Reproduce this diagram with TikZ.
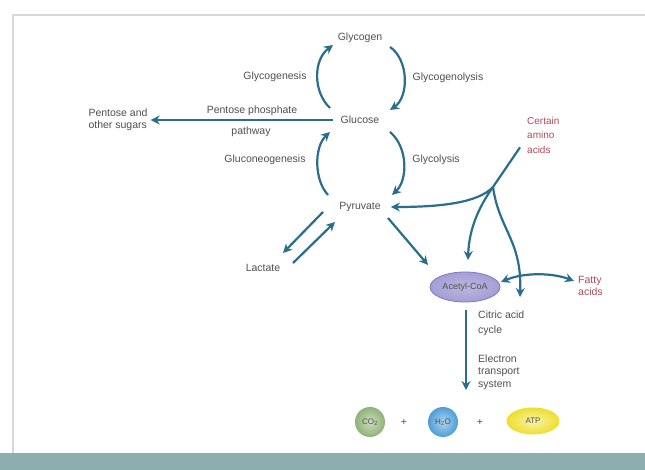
\documentclass[tikz,border=0pt]{standalone}
\usepackage{fontspec}
\setmainfont{Liberation Sans}
\usetikzlibrary{arrows.meta,shapes.geometric,calc}
\definecolor{arrc}{HTML}{2A6E8C}
\definecolor{txtc}{HTML}{505050}
\definecolor{aminoc}{HTML}{B04A5A}
\definecolor{bandc}{HTML}{8DAEAE}
\definecolor{framec}{HTML}{D8D8D8}
\definecolor{acetylc}{HTML}{A49ED6}
\definecolor{acetyledge}{HTML}{7F78C0}
\definecolor{co2c}{HTML}{8FB276}
\definecolor{h2oc}{HTML}{4E9DD8}
\definecolor{atpc}{HTML}{EEDF2E}
\tikzset{
  lbl/.style={text=txtc, inner sep=2pt, align=center},
  lblL/.style={text=txtc, inner sep=0pt, align=left, anchor=west},
  arrow/.style={draw=arrc, line width=2.2pt, -{Stealth[length=9pt,width=9pt]}},
  darrow/.style={draw=arrc, line width=2.2pt, {Stealth[length=9pt,width=9pt]}-{Stealth[length=9pt,width=9pt]}},
  pline/.style={draw=arrc, line width=2.2pt},
  molec/.style={circle, minimum size=30pt, inner sep=0pt, text=txtc, font=\fontsize{8}{9}\selectfont},
}
\begin{document}
\begin{tikzpicture}[x=1pt,y=1pt,font=\fontsize{10.5}{12.5}\selectfont]
\useasboundingbox (0,0) rectangle (645,470);
\fill[white] (0,0) rectangle (645,470);
\fill[bandc] (0,0) rectangle (645,17);
\draw[framec, line width=1.5pt] (13,17) -- (13,455) -- (645,455);

% nodes
\node[lbl] (glycogen) at (360,432) {Glycogen};
\node[lbl] (glucose) at (360,350) {Glucose};
\node[lbl] (pyruvate) at (360,263) {Pyruvate};
\node[lbl] (lactate) at (263,202) {Lactate};
\node[lbl] (glycogenesis) at (275,393) {Glycogenesis};
\node[lbl] (glycogenolysis) at (448,392) {Glycogenolysis};
\node[lbl] (gluconeo) at (265,310) {Gluconeogenesis};
\node[lbl] (glycolysis) at (436,310) {Glycolysis};
\node[lbl] (ppp) at (252,359) {Pentose phosphate};
\node[lbl] (pathway) at (251,338) {pathway};
\node[lbl, align=left, inner sep=3pt] (pentose) at (118,350) {Pentose and\\other sugars};
\node[lblL, text=aminoc, font=\fontsize{10}{14.5}\selectfont] (amino) at (527,335) {Certain\\amino\\acids};
\node[ellipse, inner color=acetylc!75!white, outer color=acetylc, draw=acetyledge, line width=0.8pt, minimum width=70pt, minimum height=30pt, inner sep=0pt, text=txtc, font=\fontsize{9}{10}\selectfont] (acetyl) at (465,183) {Acetyl-CoA};
\node[lblL, text=aminoc] (fatty) at (578,184) {Fatty\\acids};
\node[lblL, font=\fontsize{10.5}{15}\selectfont] (citric) at (478,147) {Citric acid\\cycle};
\node[lblL] (ets) at (478,98) {Electron\\transport\\system};
\node[molec, inner color=co2c!45!white, outer color=co2c] (co2) at (370,48) {CO\textsubscript{2}};
\node[text=txtc] (plus1) at (404,48) {+};
\node[molec, inner color=h2oc!45!white, outer color=h2oc] (h2o) at (443,48) {H\textsubscript{2}O};
\node[text=txtc] (plus2) at (480,48) {+};
\node[ellipse, inner color=atpc!40!white, outer color=atpc, minimum width=53pt, minimum height=27pt, inner sep=0pt, text=txtc, font=\fontsize{8}{9}\selectfont] (atp) at (533,49) {ATP};

% glycogen cycle
\draw[arrow] ($(glucose)+(-30,12)$) .. controls ($(glucose)+(-47,28)$) and ($(glycogen)+(-47,-22)$) .. ($(glycogen)+(-27,-7)$);
\draw[arrow] ($(glycogen)+(30,-9)$) .. controls ($(glycogen)+(49,-22)$) and ($(glucose)+(49,23)$) .. ($(glucose)+(30,10)$);
\draw[arrow] ($(pyruvate)+(-32,12)$) .. controls ($(pyruvate)+(-46,27)$) and ($(glucose)+(-46,-27)$) .. ($(glucose)+(-30,-12)$);
\draw[arrow] ($(glucose)+(30,-12)$) .. controls ($(glucose)+(48,-27)$) and ($(pyruvate)+(48,27)$) .. ($(pyruvate)+(32,12)$);

% pentose phosphate pathway
\draw[arrow] ($(glucose.west)+(-6,0)$) -- (pentose.east);

% lactate
\draw[arrow] ($(pyruvate)+(-37,-5)$) -- ($(lactate)+(20,15)$);
\draw[arrow] ($(lactate)+(30,5)$) -- ($(pyruvate)+(-25,-15)$);

% pyruvate to acetyl
\draw[arrow] ($(pyruvate)+(28,-11)$) -- ($(acetyl)+(-37,22)$);

% amino acids
\coordinate (br) at (493,283);
\draw[pline] ($(amino.south west)+(-7,6)$) -- (br);
\draw[arrow] (br) .. controls (478,267) and (440,263) .. ($(pyruvate.east)+(8,0)$);
\draw[arrow] (br) .. controls (478,262) and (469,240) .. ($(acetyl)+(3,27)$);
\draw[arrow] (br) .. controls (499,240) and (522,230) .. ($(acetyl)+(55,-10)$);

% fatty acids
\draw[darrow] ($(acetyl)+(36,5)$) .. controls ($(acetyl)+(60,15)$) and ($(fatty.west)+(-25,13)$) .. ($(fatty.west)+(-4,5)$);

% citric acid cycle / ETS
\coordinate (etsend) at (466,80);
\draw[arrow] ($(acetyl.south)+(1,-8)$) -- (etsend);
\end{tikzpicture}
\end{document}
